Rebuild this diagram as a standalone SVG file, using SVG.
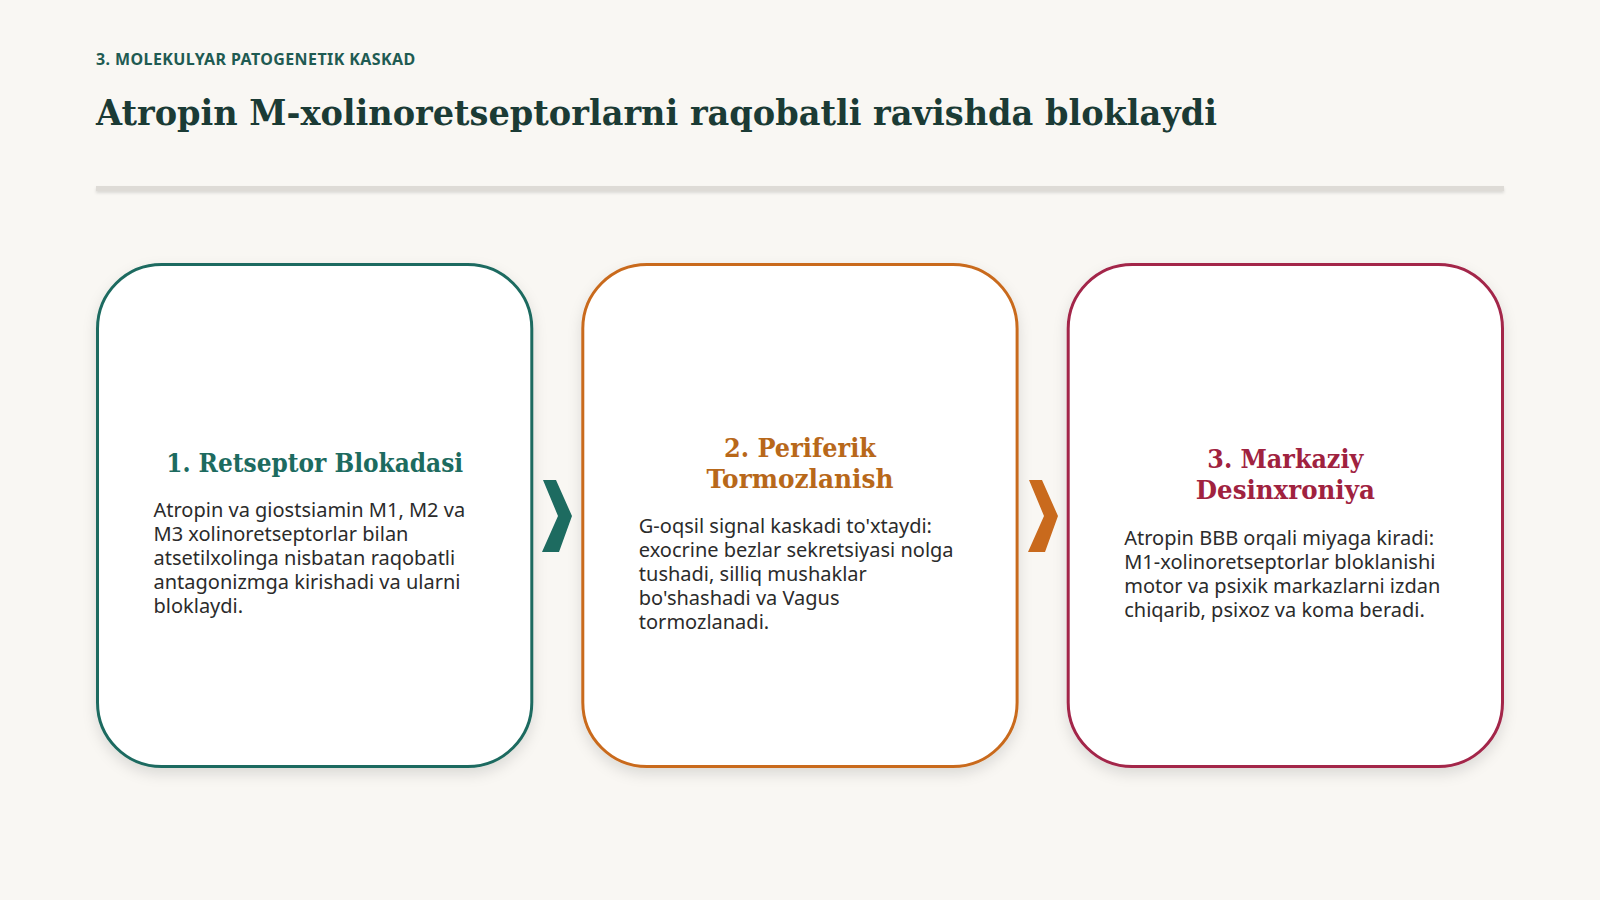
<svg xmlns="http://www.w3.org/2000/svg" width="1600" height="900" viewBox="0 0 1600 900">
  <defs>
    <filter id="cardShadow" x="-10%" y="-10%" width="120%" height="125%">
      <feDropShadow dx="0" dy="6" stdDeviation="7" flood-color="#000" flood-opacity="0.12"/>
    </filter>
    <filter id="lineShadow" x="-2%" y="-200%" width="104%" height="500%">
      <feDropShadow dx="0" dy="2" stdDeviation="1.5" flood-color="#000" flood-opacity="0.12"/>
    </filter>
    <style>
      .kicker { font-family: "Noto Sans", "Open Sans", sans-serif; font-weight: 700; font-size: 16px; fill: #1f5b52; letter-spacing: 0.4px; }
      .title { font-family: "DejaVu Serif", "Liberation Serif", serif; font-weight: 700; font-size: 36px; fill: #1b3b35; }
      .card { fill: #ffffff; stroke-width: 3; }
      .ctitle { font-family: "DejaVu Serif", "Liberation Serif", serif; font-weight: 700; font-size: 26px; text-anchor: middle; }
      .body { font-family: "Noto Sans", "Open Sans", sans-serif; font-size: 20px; fill: #2b2b2b; }
      .teal { stroke: #1d6b60; }
      .orange { stroke: #c96a1d; }
      .crimson { stroke: #a3254a; }
    </style>
  </defs>
  <rect x="0" y="0" width="1600" height="900" fill="#f9f7f3"/>

  <g id="header">
    <text class="kicker" x="96" y="65">3. MOLEKULYAR PATOGENETIK KASKAD</text>
    <text class="title" x="96" y="125" textLength="1121" lengthAdjust="spacingAndGlyphs">Atropin M-xolinoretseptorlarni raqobatli ravishda bloklaydi</text>
    <rect x="96" y="186" width="1408" height="5" fill="#dedbd6" filter="url(#lineShadow)"/>
  </g>

  <g id="card1">
    <rect class="card teal" x="97.5" y="264.5" width="434.3" height="502" rx="64" ry="64" filter="url(#cardShadow)"/>
    <text class="ctitle" x="314.7" y="472" fill="#1d6b60" textLength="297" lengthAdjust="spacingAndGlyphs">1. Retseptor Blokadasi</text>
    <text class="body" x="153.5" y="517">Atropin va giostsiamin M1, M2 va</text>
    <text class="body" x="153.5" y="541">M3 xolinoretseptorlar bilan</text>
    <text class="body" x="153.5" y="565">atsetilxolinga nisbatan raqobatli</text>
    <text class="body" x="153.5" y="589">antagonizmga kirishadi va ularni</text>
    <text class="body" x="153.5" y="613">bloklaydi.</text>
  </g>

  <g id="card2">
    <rect class="card orange" x="582.8" y="264.5" width="434.3" height="502" rx="64" ry="64" filter="url(#cardShadow)"/>
    <text class="ctitle" x="800" y="456.5" fill="#b8681a" textLength="152" lengthAdjust="spacingAndGlyphs">2. Periferik</text>
    <text class="ctitle" x="800" y="488" fill="#b8681a" textLength="187" lengthAdjust="spacingAndGlyphs">Tormozlanish</text>
    <text class="body" x="638.8" y="533">G-oqsil signal kaskadi to'xtaydi:</text>
    <text class="body" x="638.8" y="557">exocrine bezlar sekretsiyasi nolga</text>
    <text class="body" x="638.8" y="581">tushadi, silliq mushaklar</text>
    <text class="body" x="638.8" y="605">bo'shashadi va Vagus</text>
    <text class="body" x="638.8" y="629">tormozlanadi.</text>
  </g>

  <g id="card3">
    <rect class="card crimson" x="1068.2" y="264.5" width="434.3" height="502" rx="64" ry="64" filter="url(#cardShadow)"/>
    <text class="ctitle" x="1285.3" y="467.5" fill="#a0223f" textLength="156" lengthAdjust="spacingAndGlyphs">3. Markaziy</text>
    <text class="ctitle" x="1285.3" y="498.5" fill="#a0223f" textLength="179" lengthAdjust="spacingAndGlyphs">Desinxroniya</text>
    <text class="body" x="1124.2" y="545">Atropin BBB orqali miyaga kiradi:</text>
    <text class="body" x="1124.2" y="569">M1-xolinoretseptorlar bloklanishi</text>
    <text class="body" x="1124.2" y="593">motor va psixik markazlarni izdan</text>
    <text class="body" x="1124.2" y="617">chiqarib, psixoz va koma beradi.</text>
  </g>

  <g id="connectors">
    <polygon points="543,480 556,480 572,516 559,552 542,552 558,516" fill="#1d6b60"/>
    <polygon points="1029,480 1042,480 1058,516 1045,552 1028,552 1044,516" fill="#c96a1d"/>
  </g>
</svg>
